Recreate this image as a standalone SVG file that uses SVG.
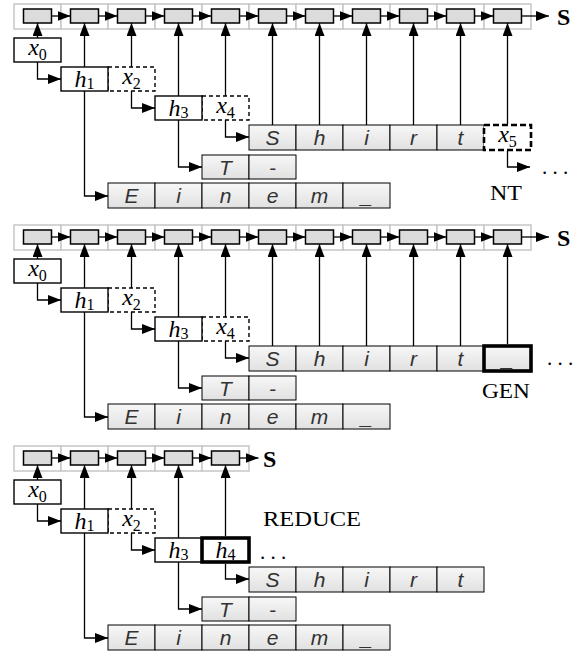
<svg xmlns="http://www.w3.org/2000/svg" width="579" height="655" viewBox="0 0 579 655">
<defs>
<linearGradient id="g" x1="0" y1="0" x2="0" y2="1"><stop offset="0" stop-color="#f7f7f7"/><stop offset="1" stop-color="#e1e1e1"/></linearGradient>
<marker id="a" markerUnits="userSpaceOnUse" markerWidth="13" markerHeight="10" refX="13" refY="5" orient="auto"><path d="M0,0 L13,5 L0,10 z" fill="#000"/></marker>
<g id="sk"><rect class="sc" x="0" y="4" width="47" height="25"/><rect class="sb" x="9.5" y="9" width="28" height="14"/></g>
</defs>
<style>
.sc{fill:#fff;stroke:#c6c6c6;stroke-width:1.5}
.sb{fill:#dcdcdc;stroke:#000;stroke-width:1.5}
.bx{fill:#fff;stroke:#000;stroke-width:1.4}
.dx{fill:#fff;stroke:#000;stroke-width:1.4;stroke-dasharray:4,3}
.dt{fill:#fff;stroke:#000;stroke-width:2.6;stroke-dasharray:6,3}
.tk{fill:url(#g);stroke:#000;stroke-width:3.6}
.tw{fill:#fff;stroke:#000;stroke-width:3.6}
.cl{fill:url(#g);stroke:#000;stroke-width:1}
.ln{fill:none;stroke:#000;stroke-width:1.3;marker-end:url(#a)}
.m{font-family:"Liberation Serif",serif;font-style:italic;font-size:24px;text-anchor:middle}
.sub{font-style:normal;font-size:16px}
.lt{font-family:"Liberation Sans",sans-serif;font-style:italic;font-size:21px;fill:#333;text-anchor:middle}
.lb{font-family:"Liberation Serif",serif;font-size:21px}
.S{font-family:"Liberation Serif",serif;font-weight:bold;font-size:24px}
</style>
<rect width="579" height="655" fill="#fff"/>

<!-- ===== Panel 1 : NT ===== -->
<g id="panel1">
<g id="p1-stack">
<use href="#sk" x="14"/><use href="#sk" x="61"/><use href="#sk" x="108"/><use href="#sk" x="155"/><use href="#sk" x="202"/><use href="#sk" x="249"/><use href="#sk" x="296"/><use href="#sk" x="343"/><use href="#sk" x="390"/><use href="#sk" x="437"/><use href="#sk" x="484"/>
<text class="S" x="557" y="25">S</text>
</g>
<g id="p1-x2"><rect class="dx" x="108" y="67" width="47" height="24"/><text class="m" x="131.5" y="84">x<tspan class="sub" dy="5">2</tspan></text></g>
<g id="p1-x4"><rect class="dx" x="202" y="96" width="47" height="24"/><text class="m" x="225.5" y="113">x<tspan class="sub" dy="5">4</tspan></text></g>
<g id="p1-x0"><rect class="bx" x="14" y="38" width="47" height="24"/><text class="m" x="37.5" y="55">x<tspan class="sub" dy="5">0</tspan></text></g>
<g id="p1-h1"><rect class="bx" x="61" y="67" width="47" height="24"/><text class="m" x="84.5" y="87">h<tspan class="sub" dy="2">1</tspan></text></g>
<g id="p1-h3"><rect class="bx" x="155" y="96" width="47" height="24"/><text class="m" x="178.5" y="116">h<tspan class="sub" dy="2">3</tspan></text></g>
<g id="p1-shirt">
<rect class="cl" x="249" y="125" width="47" height="25"/><rect class="cl" x="296" y="125" width="47" height="25"/><rect class="cl" x="343" y="125" width="47" height="25"/><rect class="cl" x="390" y="125" width="47" height="25"/><rect class="cl" x="437" y="125" width="47" height="25"/>
<text class="lt" x="272.5" y="145">S</text><text class="lt" x="319.5" y="145">h</text><text class="lt" x="366.5" y="145">i</text><text class="lt" x="413.5" y="145">r</text><text class="lt" x="460.5" y="145">t</text>
</g>
<g id="p1-x5"><rect class="dt" x="484" y="125" width="47" height="25"/><text class="m" x="507.5" y="142">x<tspan class="sub" dy="5">5</tspan></text></g>
<g id="p1-t">
<rect class="cl" x="202" y="155" width="47" height="24"/><rect class="cl" x="249" y="155" width="47" height="24"/>
<text class="lt" x="225.5" y="175">T</text><text class="lt" x="272.5" y="175">-</text>
</g>
<g id="p1-einem">
<rect class="cl" x="108" y="183" width="47" height="25"/><rect class="cl" x="155" y="183" width="47" height="25"/><rect class="cl" x="202" y="183" width="47" height="25"/><rect class="cl" x="249" y="183" width="47" height="25"/><rect class="cl" x="296" y="183" width="47" height="25"/><rect class="cl" x="343" y="183" width="47" height="25"/>
<text class="lt" x="131.5" y="203">E</text><text class="lt" x="178.5" y="203">i</text><text class="lt" x="225.5" y="203">n</text><text class="lt" x="272.5" y="203">e</text><text class="lt" x="319.5" y="203">m</text><text class="lt" x="366.5" y="203">_</text>
</g>
<g id="p1-labels">
<text class="lb" x="542" y="174">. . .</text>
<text class="lb" x="506" y="200" text-anchor="middle" textLength="32" lengthAdjust="spacingAndGlyphs">NT</text>
</g>
<g id="p1-connectors">
<path class="ln" d="M51.5,16H70.5"/><path class="ln" d="M98.5,16H117.5"/><path class="ln" d="M145.5,16H164.5"/><path class="ln" d="M192.5,16H211.5"/><path class="ln" d="M239.5,16H258.5"/><path class="ln" d="M286.5,16H305.5"/><path class="ln" d="M333.5,16H352.5"/><path class="ln" d="M380.5,16H399.5"/><path class="ln" d="M427.5,16H446.5"/><path class="ln" d="M474.5,16H493.5"/>
<path class="ln" d="M521.5,16H549"/>
<path class="ln" d="M37.5,38V23"/><path class="ln" d="M84.5,67V23"/><path class="ln" d="M131.5,67V23"/><path class="ln" d="M178.5,96V23"/><path class="ln" d="M225.5,96V23"/>
<path class="ln" d="M272.5,125V23"/><path class="ln" d="M319.5,125V23"/><path class="ln" d="M366.5,125V23"/><path class="ln" d="M413.5,125V23"/><path class="ln" d="M460.5,125V23"/><path class="ln" d="M507.5,124V23"/>
<path class="ln" d="M37.5,62V79H61"/>
<path class="ln" d="M131.5,91V108H155"/>
<path class="ln" d="M225.5,120V137H249"/>
<path class="ln" d="M178.5,120V167H202"/>
<path class="ln" d="M84.5,91V196H108"/>
<path class="ln" d="M507.5,151V167H530"/>
</g>
</g>

<!-- ===== Panel 2 : GEN ===== -->
<g id="panel2" transform="translate(0,221)">
<g id="p2-stack">
<use href="#sk" x="14"/><use href="#sk" x="61"/><use href="#sk" x="108"/><use href="#sk" x="155"/><use href="#sk" x="202"/><use href="#sk" x="249"/><use href="#sk" x="296"/><use href="#sk" x="343"/><use href="#sk" x="390"/><use href="#sk" x="437"/><use href="#sk" x="484"/>
<text class="S" x="557" y="25">S</text>
</g>
<g id="p2-x2"><rect class="dx" x="108" y="67" width="47" height="24"/><text class="m" x="131.5" y="84">x<tspan class="sub" dy="5">2</tspan></text></g>
<g id="p2-x4"><rect class="dx" x="202" y="96" width="47" height="24"/><text class="m" x="225.5" y="113">x<tspan class="sub" dy="5">4</tspan></text></g>
<g id="p2-x0"><rect class="bx" x="14" y="38" width="47" height="24"/><text class="m" x="37.5" y="55">x<tspan class="sub" dy="5">0</tspan></text></g>
<g id="p2-h1"><rect class="bx" x="61" y="67" width="47" height="24"/><text class="m" x="84.5" y="87">h<tspan class="sub" dy="2">1</tspan></text></g>
<g id="p2-h3"><rect class="bx" x="155" y="96" width="47" height="24"/><text class="m" x="178.5" y="116">h<tspan class="sub" dy="2">3</tspan></text></g>
<g id="p2-shirt">
<rect class="cl" x="249" y="125" width="47" height="25"/><rect class="cl" x="296" y="125" width="47" height="25"/><rect class="cl" x="343" y="125" width="47" height="25"/><rect class="cl" x="390" y="125" width="47" height="25"/><rect class="cl" x="437" y="125" width="47" height="25"/>
<text class="lt" x="272.5" y="145">S</text><text class="lt" x="319.5" y="145">h</text><text class="lt" x="366.5" y="145">i</text><text class="lt" x="413.5" y="145">r</text><text class="lt" x="460.5" y="145">t</text>
</g>
<g id="p2-gen"><rect class="tk" x="484" y="125" width="47" height="25"/><text class="lt" x="507.5" y="145">_</text></g>
<g id="p2-t">
<rect class="cl" x="202" y="155" width="47" height="24"/><rect class="cl" x="249" y="155" width="47" height="24"/>
<text class="lt" x="225.5" y="175">T</text><text class="lt" x="272.5" y="175">-</text>
</g>
<g id="p2-einem">
<rect class="cl" x="108" y="183" width="47" height="25"/><rect class="cl" x="155" y="183" width="47" height="25"/><rect class="cl" x="202" y="183" width="47" height="25"/><rect class="cl" x="249" y="183" width="47" height="25"/><rect class="cl" x="296" y="183" width="47" height="25"/><rect class="cl" x="343" y="183" width="47" height="25"/>
<text class="lt" x="131.5" y="203">E</text><text class="lt" x="178.5" y="203">i</text><text class="lt" x="225.5" y="203">n</text><text class="lt" x="272.5" y="203">e</text><text class="lt" x="319.5" y="203">m</text><text class="lt" x="366.5" y="203">_</text>
</g>
<g id="p2-labels">
<text class="lb" x="547" y="144">. . .</text>
<text class="lb" x="506" y="177" text-anchor="middle" textLength="48" lengthAdjust="spacingAndGlyphs">GEN</text>
</g>
<g id="p2-connectors">
<path class="ln" d="M51.5,16H70.5"/><path class="ln" d="M98.5,16H117.5"/><path class="ln" d="M145.5,16H164.5"/><path class="ln" d="M192.5,16H211.5"/><path class="ln" d="M239.5,16H258.5"/><path class="ln" d="M286.5,16H305.5"/><path class="ln" d="M333.5,16H352.5"/><path class="ln" d="M380.5,16H399.5"/><path class="ln" d="M427.5,16H446.5"/><path class="ln" d="M474.5,16H493.5"/>
<path class="ln" d="M521.5,16H549"/>
<path class="ln" d="M37.5,38V23"/><path class="ln" d="M84.5,67V23"/><path class="ln" d="M131.5,67V23"/><path class="ln" d="M178.5,96V23"/><path class="ln" d="M225.5,96V23"/>
<path class="ln" d="M272.5,125V23"/><path class="ln" d="M319.5,125V23"/><path class="ln" d="M366.5,125V23"/><path class="ln" d="M413.5,125V23"/><path class="ln" d="M460.5,125V23"/><path class="ln" d="M507.5,123V23"/>
<path class="ln" d="M37.5,62V79H61"/>
<path class="ln" d="M131.5,91V108H155"/>
<path class="ln" d="M225.5,120V137H249"/>
<path class="ln" d="M178.5,120V167H202"/>
<path class="ln" d="M84.5,91V196H108"/>
</g>
</g>

<!-- ===== Panel 3 : REDUCE ===== -->
<g id="panel3" transform="translate(0,442)">
<g id="p3-stack">
<use href="#sk" x="14"/><use href="#sk" x="61"/><use href="#sk" x="108"/><use href="#sk" x="155"/><use href="#sk" x="202"/>
<text class="S" x="263" y="25">S</text>
</g>
<g id="p3-x2"><rect class="dx" x="108" y="67" width="47" height="24"/><text class="m" x="131.5" y="84">x<tspan class="sub" dy="5">2</tspan></text></g>
<g id="p3-x0"><rect class="bx" x="14" y="38" width="47" height="24"/><text class="m" x="37.5" y="55">x<tspan class="sub" dy="5">0</tspan></text></g>
<g id="p3-h1"><rect class="bx" x="61" y="67" width="47" height="24"/><text class="m" x="84.5" y="87">h<tspan class="sub" dy="2">1</tspan></text></g>
<g id="p3-h3"><rect class="bx" x="155" y="96" width="47" height="24"/><text class="m" x="178.5" y="116">h<tspan class="sub" dy="2">3</tspan></text></g>
<g id="p3-h4"><rect class="tw" x="202" y="96" width="47" height="24"/><text class="m" x="225.5" y="116">h<tspan class="sub" dy="2">4</tspan></text></g>
<g id="p3-shirt">
<rect class="cl" x="249" y="125" width="47" height="25"/><rect class="cl" x="296" y="125" width="47" height="25"/><rect class="cl" x="343" y="125" width="47" height="25"/><rect class="cl" x="390" y="125" width="47" height="25"/><rect class="cl" x="437" y="125" width="47" height="25"/>
<text class="lt" x="272.5" y="145">S</text><text class="lt" x="319.5" y="145">h</text><text class="lt" x="366.5" y="145">i</text><text class="lt" x="413.5" y="145">r</text><text class="lt" x="460.5" y="145">t</text>
</g>
<g id="p3-t">
<rect class="cl" x="202" y="155" width="47" height="24"/><rect class="cl" x="249" y="155" width="47" height="24"/>
<text class="lt" x="225.5" y="175">T</text><text class="lt" x="272.5" y="175">-</text>
</g>
<g id="p3-einem">
<rect class="cl" x="108" y="183" width="47" height="25"/><rect class="cl" x="155" y="183" width="47" height="25"/><rect class="cl" x="202" y="183" width="47" height="25"/><rect class="cl" x="249" y="183" width="47" height="25"/><rect class="cl" x="296" y="183" width="47" height="25"/><rect class="cl" x="343" y="183" width="47" height="25"/>
<text class="lt" x="131.5" y="203">E</text><text class="lt" x="178.5" y="203">i</text><text class="lt" x="225.5" y="203">n</text><text class="lt" x="272.5" y="203">e</text><text class="lt" x="319.5" y="203">m</text><text class="lt" x="366.5" y="203">_</text>
</g>
<g id="p3-labels">
<text class="lb" x="260" y="117">. . .</text>
<text class="lb" x="263" y="84" textLength="98" lengthAdjust="spacingAndGlyphs">REDUCE</text>
</g>
<g id="p3-connectors">
<path class="ln" d="M51.5,16H70.5"/><path class="ln" d="M98.5,16H117.5"/><path class="ln" d="M145.5,16H164.5"/><path class="ln" d="M192.5,16H211.5"/>
<path class="ln" d="M239.5,16H258.5"/>
<path class="ln" d="M37.5,38V23"/><path class="ln" d="M84.5,67V23"/><path class="ln" d="M131.5,67V23"/><path class="ln" d="M178.5,96V23"/><path class="ln" d="M225.5,94V23"/>
<path class="ln" d="M37.5,62V79H61"/>
<path class="ln" d="M131.5,91V108H155"/>
<path class="ln" d="M225.5,122V137H249"/>
<path class="ln" d="M178.5,120V167H202"/>
<path class="ln" d="M84.5,91V196H108"/>
</g>
</g>
</svg>
